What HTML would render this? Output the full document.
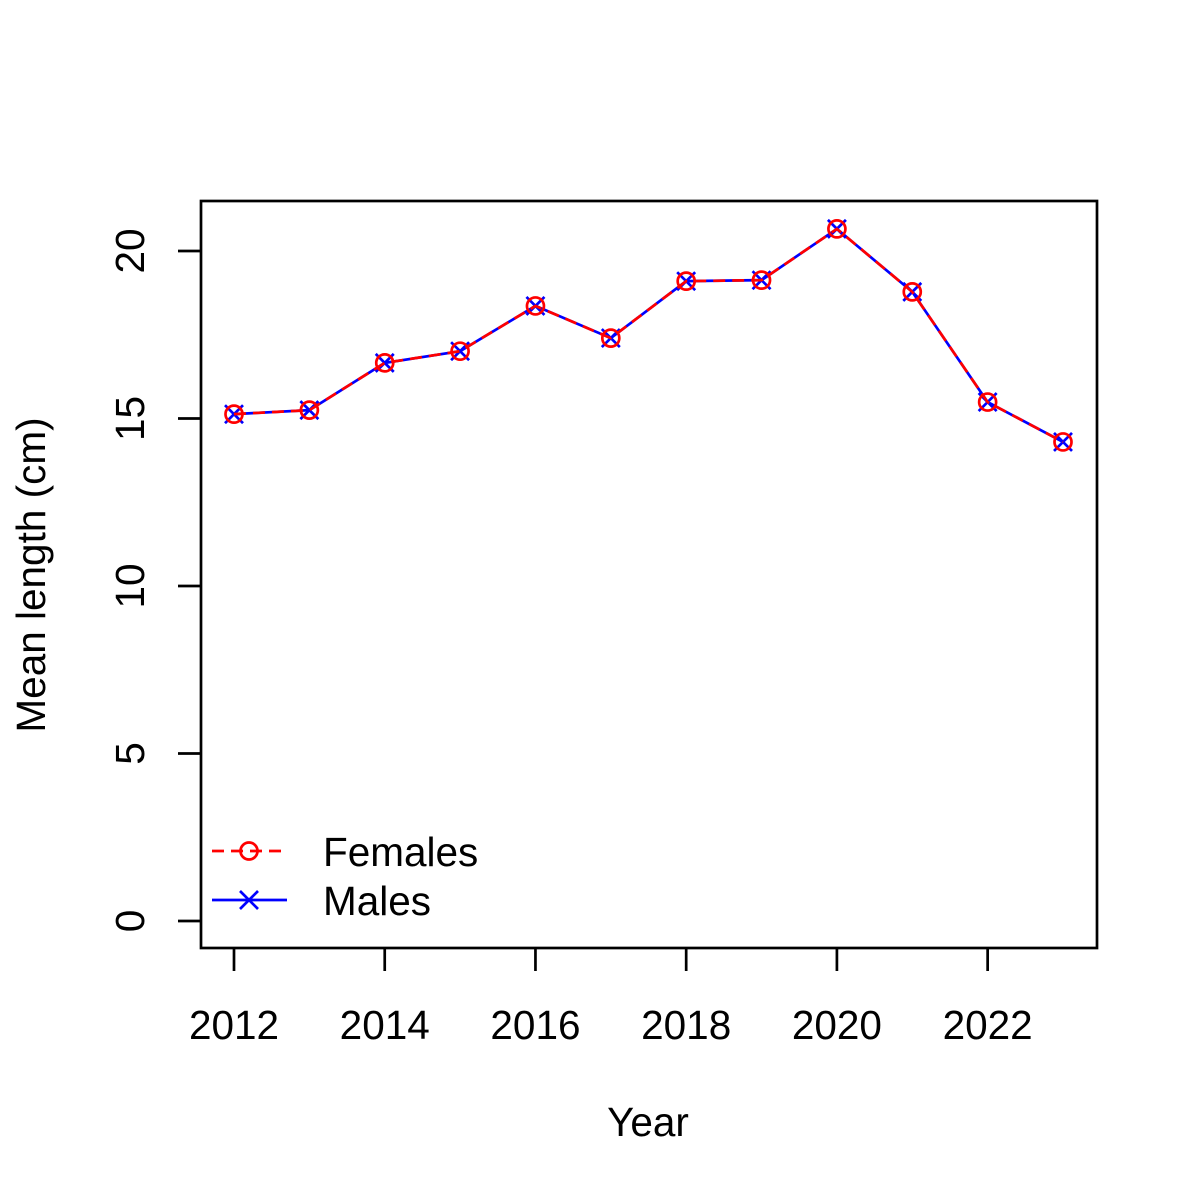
<!DOCTYPE html>
<html><head><meta charset="utf-8"><style>body{margin:0;background:#fff}svg{display:block}text{font-family:"Liberation Sans",Arial,sans-serif;fill:#000}</style></head>
<body>
<svg id="c" width="1200" height="1200" xmlns="http://www.w3.org/2000/svg">
<rect x="0" y="0" width="1200" height="1200" fill="#fff"/>
<rect x="201" y="201" width="896" height="747" fill="none" stroke="#000" stroke-width="2.7"/>
<g id="axes"></g>
<g id="series"></g>
<text x="648" y="1136" font-size="40.5" text-anchor="middle">Year</text>
<text transform="translate(45,575) rotate(-90)" font-size="40.5" text-anchor="middle">Mean length (cm)</text>
<g>
<g>
<line x1="212" y1="851" x2="287" y2="851" stroke="#f00" stroke-width="2.7" stroke-dasharray="12,7"/>
<circle cx="249" cy="851" r="8.5" fill="none" stroke="#f00" stroke-width="2.7"/>
<text x="323" y="866" font-size="40.5">Females</text></g>
<g>
<line x1="212" y1="900" x2="287" y2="900" stroke="#00f" stroke-width="2.7"/>
<path d="M240,891L258,909M240,909L258,891" stroke="#00f" stroke-width="2.7"/>
<text x="323" y="915" font-size="40.5">Males</text></g>
</g>
</svg>
<script>
const years=[2012,2013,2014,2015,2016,2017,2018,2019,2020,2021,2022,2023];
const females=[15.13,15.25,16.66,17.01,18.36,17.40,19.10,19.13,20.66,18.78,15.49,14.30];
const males=[15.13,15.25,16.66,17.01,18.36,17.40,19.10,19.13,20.66,18.78,15.49,14.30];
const xTicks=[2012,2014,2016,2018,2020,2022];
const yTicks=[0,5,10,15,20];
const NS="http://www.w3.org/2000/svg";
const xs=v=>234+(v-2012)*(1063-234)/11;
const ys=v=>921-v*(921-251)/20;
function mk(t,a,p){const e=document.createElementNS(NS,t);for(const k in a)e.setAttribute(k,a[k]);p.appendChild(e);return e;}
const ax=document.getElementById('axes');
xTicks.forEach(v=>{const g=mk('g',{},ax);


mk('line',{x1:xs(v),y1:948,x2:xs(v),y2:971,stroke:'#000','stroke-width':2.7},g);
const t=mk('text',{x:xs(v),y:1039,'font-size':40.5,'text-anchor':'middle'},g);t.textContent=v;});
yTicks.forEach(v=>{const g=mk('g',{},ax);


mk('line',{x1:201,y1:ys(v),x2:178,y2:ys(v),stroke:'#000','stroke-width':2.7},g);
const t=mk('text',{transform:`translate(144,${ys(v)}) rotate(-90)`,'font-size':40.5,'text-anchor':'middle'},g);t.textContent=v;});
const s=document.getElementById('series');
const mg=mk('g',{},s);


mk('polyline',{points:years.map((y,i)=>xs(y)+','+ys(males[i])).join(' '),fill:'none',stroke:'#00f','stroke-width':2.7},mg);
years.forEach((y,i)=>{const x=xs(y),yy=ys(males[i]);
const p=mk('path',{d:`M${x-9},${yy-9}L${x+9},${yy+9}M${x-9},${yy+9}L${x+9},${yy-9}`,stroke:'#00f','stroke-width':2.7},mg);

});
const fg=mk('g',{},s);


mk('polyline',{points:years.map((y,i)=>xs(y)+','+ys(females[i])).join(' '),fill:'none',stroke:'#f00','stroke-width':2.7,'stroke-dasharray':'12,7'},fg);
years.forEach((y,i)=>{const c=mk('circle',{cx:xs(y),cy:ys(females[i]),r:8.5,fill:'none',stroke:'#f00','stroke-width':2.7},fg);

});
</script>
</body></html>
